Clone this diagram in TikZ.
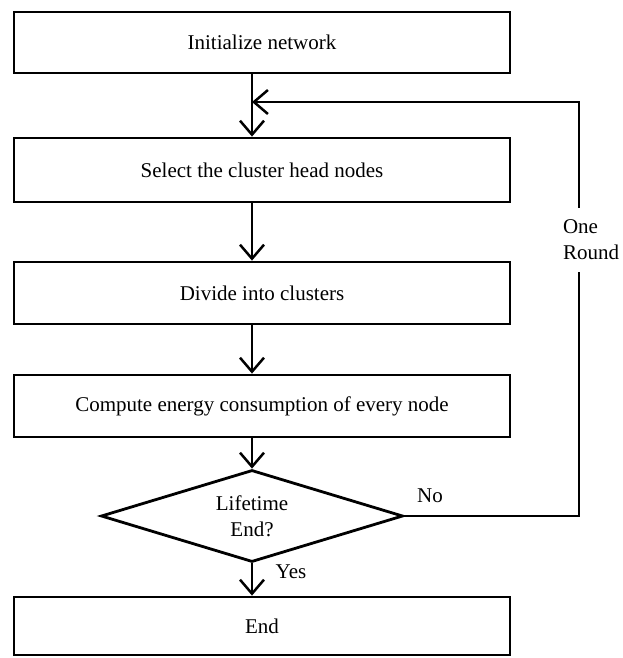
\documentclass[tikz,border=0pt]{standalone}
\usepackage{fontspec}
\setmainfont{Liberation Serif}
\usetikzlibrary{shapes.geometric,arrows.meta}
\begin{document}
\begin{tikzpicture}[x=1pt,y=-1pt,
  txt/.style={font=\fontsize{21}{26}\selectfont},
  box/.style={txt, draw, line width=2.8pt, minimum width=496pt, inner sep=0pt},
  dec/.style={txt, draw, shape=diamond, aspect=3.3, line width=2.8pt, minimum width=302pt, minimum height=92pt, inner sep=0pt, align=center},
  lbl/.style={txt, inner sep=0pt},
  arr/.style={line width=2.5pt, -{Straight Barb[length=14pt,width=24pt,line width=2.5pt]}},
  conn/.style={line width=2.5pt}]
\useasboundingbox (0,0) rectangle (622,658);
\node[box, minimum height=61pt] (b1) at (262,42.5) {Initialize network};
\node[box, minimum height=64pt] (b2) at (262,170) {Select the cluster head nodes};
\node[box, minimum height=62pt] (b3) at (262,293) {Divide into clusters};
\node[box, minimum height=62pt] (b4) at (262,406) {Compute energy consumption of every node};
\node[dec] (d) at (252,516) {Lifetime\\End?};
\node[box, minimum height=58pt] (e) at (262,626) {End};
\coordinate (ax) at (252,0);
\coordinate (fb) at (579,0);
\coordinate (top) at (0,102);
\node[lbl, align=left, inner ysep=12pt] (or) at (591,240) {One\\Round};
\node[lbl] (no) at (430,496) {No};
\node[lbl] (yes) at (291,572) {Yes};
\draw[arr] (b1.south -| ax) -- (b2.north -| ax);
\draw[arr] (b2.south -| ax) -- (b3.north -| ax);
\draw[arr] (b3.south -| ax) -- (b4.north -| ax);
\draw[arr] (b4.south -| ax) -- (d.north);
\draw[arr] (d.south) -- (e.north -| d.south);
\draw[conn, line join=miter] (d.east) -- (fb |- d.east) -- (or.south -| fb);
\draw[arr, line join=miter] (or.north -| fb) -- (fb |- top) -- (ax |- top);
\end{tikzpicture}
\end{document}
